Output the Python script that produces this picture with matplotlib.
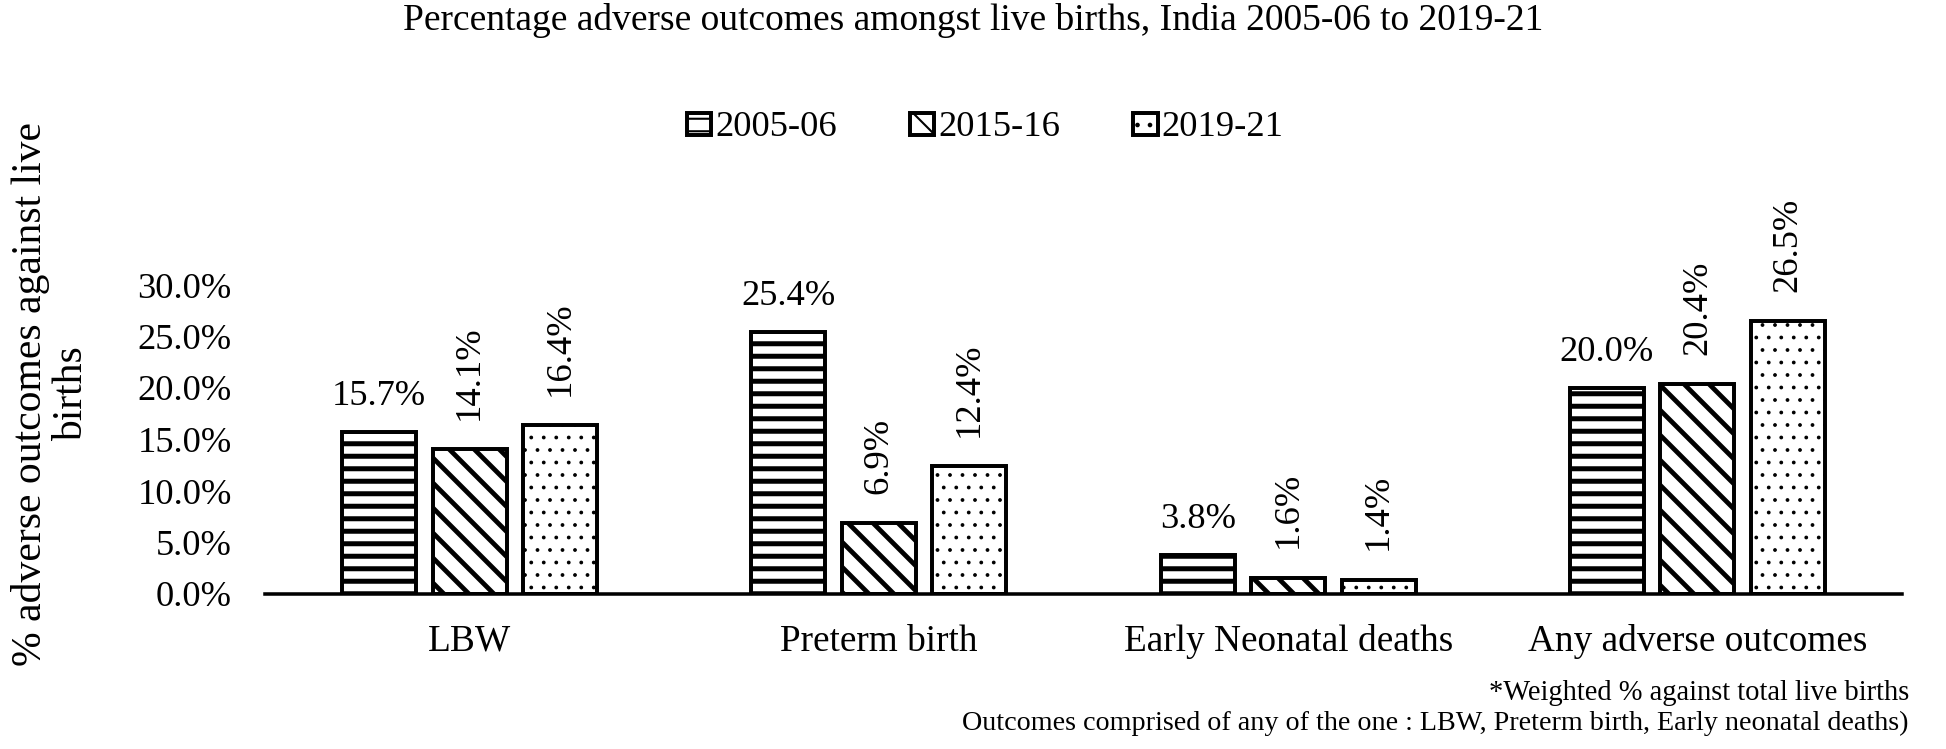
import matplotlib
matplotlib.use("Agg")
import matplotlib.pyplot as plt
import numpy as np

categories = ["LBW", "Preterm birth", "Early Neonatal deaths", "Any adverse outcomes"]
periods = ["2005-06", "2015-16", "2019-21"]
pct_2005 = [15.7, 25.4, 3.8, 20.0]
pct_2015 = [14.1, 6.9, 1.6, 20.4]
pct_2019 = [16.4, 12.4, 1.4, 26.5]
yticks = [0, 5, 10, 15, 20, 25, 30]

DPI = 150
W, H = 1946, 749
FS = 17.5

plt.rcParams["font.family"] = ["Liberation Serif", "DejaVu Serif"]
plt.rcParams["hatch.color"] = "black"

fig = plt.figure(figsize=(W / DPI, H / DPI), dpi=DPI)
ax = fig.add_axes([265 / W, 1 - 594 / H, (1902 - 265) / W, (594 - 285) / H])

x = np.arange(len(categories))
width = 0.181
step = 0.221
# values, hatch, hatch linewidth, whether the value label is rotated
series = [(pct_2005, "--", 2.4, False),
          (pct_2015, "\\\\", 2.3, True),
          (pct_2019, "..", 0.6, True)]

handles = []
for k, (vals, hatch, hlw, rotated) in enumerate(series):
    pos = x + (k - 1) * step
    with plt.rc_context({"hatch.linewidth": hlw}):
        bars = ax.bar(pos, vals, width, color="white", edgecolor="black",
                      linewidth=1.9, hatch=hatch)
    for b in bars:
        if hasattr(b, "set_hatch_linewidth"):
            b.set_hatch_linewidth(hlw)
    handles.append(bars)
    for xi, v in zip(pos, vals):
        if rotated:
            ax.annotate(f"{v:.1f}%", (xi, v), xytext=(0, 14), textcoords="offset points",
                        ha="center", va="bottom", rotation=90, fontsize=FS,
                        annotation_clip=False)
        else:
            ax.annotate(f"{v:.1f}%", (xi, v), xytext=(0, 17), textcoords="offset points",
                        ha="center", va="center", fontsize=FS, annotation_clip=False)

ax.set_xlim(-0.5, len(categories) - 0.5)
ax.set_ylim(0, 30)
ax.set_xticks(x)
ax.set_xticklabels(categories, fontsize=17.9)
ax.set_yticks(yticks)
ax.set_yticklabels([f"{t:.1f}%" for t in yticks], fontsize=FS)
ax.tick_params(axis="both", length=0)
ax.tick_params(axis="x", pad=14.5)
ax.tick_params(axis="y", pad=16)
for side in ["top", "right", "left"]:
    ax.spines[side].set_visible(False)
ax.spines["bottom"].set_linewidth(1.7)

fig.text(973 / W, 1 - 20 / H,
         "Percentage adverse outcomes amongst live births, India 2005-06 to 2019-21",
         ha="center", va="center", fontsize=18)
fig.text(51 / W, 1 - 394 / H, "% adverse outcomes against live\nbirths",
         ha="center", va="center", rotation=90, fontsize=20, multialignment="center",
         linespacing=1.1)
fig.text(1909 / W, 1 - 693 / H, "*Weighted % against total live births",
         ha="right", va="center", fontsize=13.7)
fig.text(1909 / W, 1 - 723 / H,
         "Outcomes comprised of any of the one : LBW, Preterm birth, Early neonatal deaths)",
         ha="right", va="center", fontsize=13.5)

fig.legend(handles, periods, loc="center", bbox_to_anchor=(985 / W, 1 - 128 / H),
           ncol=3, frameon=False, handlelength=0.68, handleheight=0.55,
           handletextpad=0.1, columnspacing=2.0, fontsize=FS)

fig.savefig("out.png", dpi=DPI)
